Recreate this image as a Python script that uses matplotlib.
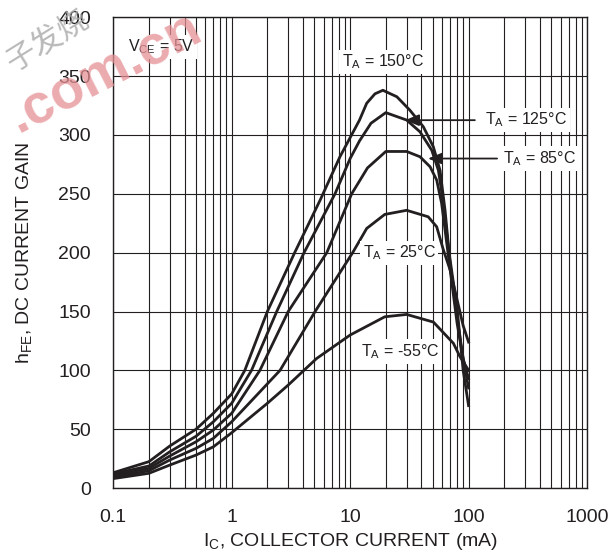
import matplotlib
matplotlib.use('Agg')
import matplotlib.pyplot as plt

plt.rcParams['font.family'] = ['Liberation Sans', 'DejaVu Sans']

ink = '#231f20'

# hFE vs IC curves
ic_150 = [0.1, 0.2, 0.3, 0.5, 0.7, 1, 1.29, 2, 3.4, 5.6, 8.2, 12, 13.8, 16.2, 18.9, 24.8, 32, 41.5, 50.4, 57.4, 63.3, 68.5, 80.5, 90, 100]
hfe_150 = [13, 22.4, 35.7, 50, 63.5, 80, 100, 150, 200, 245, 281.5, 312.7, 327, 335, 338, 332.5, 321, 307, 290, 270, 236, 200, 150, 100, 70]

ic_125 = [0.1, 0.2, 0.3, 0.5, 0.7, 1, 1.47, 2.4, 4.08, 7.45, 10, 12, 15, 20, 30, 38.9, 48.9, 55.6, 61.3, 70, 80, 90, 100]
hfe_125 = [12, 18.7, 30.8, 44, 56.3, 72, 100, 150, 200, 250, 280, 295, 310, 319, 312.7, 302.7, 287, 270, 242, 190, 145, 110, 85]

ic_85 = [0.1, 0.2, 0.3, 0.5, 0.7, 1, 1.73, 3, 6.35, 10.3, 14, 20, 30, 38.9, 47.3, 53.8, 59.2, 70, 80, 90, 100]
hfe_85 = [10.5, 16.7, 27.2, 39.3, 49.3, 63.5, 100, 150, 200, 250, 272, 286, 286, 281.5, 273, 261.7, 242, 185, 140, 110, 93]

ic_25 = [0.1, 0.2, 0.3, 0.5, 0.7, 1, 2.56, 5.06, 10.5, 13.8, 19.6, 30, 45.6, 53.8, 61, 70, 80, 90, 100]
hfe_25 = [9, 14.7, 23.8, 33.7, 42.2, 56.3, 100, 150, 200, 220.6, 232.5, 236, 230.5, 222, 203, 185, 160, 138, 124]

ic_m55 = [0.1, 0.2, 0.3, 0.5, 0.7, 1, 2, 3, 5.2, 10, 19.6, 30, 50.5, 74.4, 84.6, 90.5, 100]
hfe_m55 = [8, 12.5, 19.5, 28, 35, 47, 72, 87.5, 110, 130, 145.5, 147.5, 141, 123, 111.6, 107, 100]

x_ticks = [0.1, 1, 10, 100, 1000]
x_labels = ['0.1', '1', '10', '100', '1000']
y_ticks = [0, 50, 100, 150, 200, 250, 300, 350, 400]

fig = plt.figure(figsize=(6.13, 5.59), dpi=100)
ax = fig.add_axes([0.1848, 0.127, 0.7728, 0.842])

# watermark of the source site
fig.text(0.0, 0.995, '.com.cn', fontsize=40, fontweight='bold', color='#e58f94',
         alpha=0.75, rotation=27, ha='left', va='top', zorder=0)
fig.text(0.0, 0.995, '子发烧', fontsize=22, color='#a8a8a8', alpha=0.8,
         rotation=32, ha='left', va='top',
         family=['Noto Sans CJK SC', 'DejaVu Sans'], zorder=0)

for xs, ys in [(ic_150, hfe_150), (ic_125, hfe_125), (ic_85, hfe_85),
               (ic_25, hfe_25), (ic_m55, hfe_m55)]:
    ax.plot(xs, ys, color=ink, lw=2.0, solid_joinstyle='round', zorder=3)

ax.set_xscale('log')
ax.set_xlim(0.1, 1000)
ax.set_ylim(0, 400)
ax.set_xticks(x_ticks)
ax.set_xticklabels(x_labels)
ax.set_yticks(y_ticks)
ax.grid(True, which='both', axis='x', color=ink, lw=0.8)
ax.grid(True, which='major', axis='y', color=ink, lw=0.8)
ax.tick_params(which='both', length=0, labelsize=14, labelcolor=ink)
ax.tick_params(axis='x', pad=15)
ax.tick_params(axis='y', pad=16)
for s in ax.spines.values():
    s.set_color(ink)
    s.set_linewidth(1.0)
ax.patch.set_alpha(0)

ax.set_xlabel('I$_\\mathregular{C}$, COLLECTOR CURRENT (mA)', fontsize=14, color=ink, labelpad=4)
ax.set_ylabel('h$_\\mathregular{FE}$, DC CURRENT GAIN', fontsize=14, color=ink, labelpad=17)

box = dict(facecolor='white', edgecolor='none', pad=2)
ax.text(0.132, 375, 'V$_\\mathregular{CE}$ = 5V', fontsize=11.5, color=ink, ha='left', va='center', bbox=box, zorder=4)
ax.text(18.9, 362, 'T$_\\mathregular{A}$ = 150°C', fontsize=11.5, color=ink, ha='center', va='center', bbox=box, zorder=4)
ax.text(25.9, 200, 'T$_\\mathregular{A}$ = 25°C', fontsize=11.5, color=ink, ha='center', va='center', bbox=box, zorder=4)
ax.text(26.4, 116, 'T$_\\mathregular{A}$ = -55°C', fontsize=11.5, color=ink, ha='center', va='center', bbox=box, zorder=4)
ax.text(137, 312.7, 'T$_\\mathregular{A}$ = 125°C', fontsize=11.5, color=ink, ha='left', va='center', bbox=box, zorder=4)
ax.text(197, 280, 'T$_\\mathregular{A}$ = 85°C', fontsize=11.5, color=ink, ha='left', va='center', bbox=box, zorder=4)

arrow = dict(arrowstyle='-|>,head_length=0.6,head_width=0.25', color=ink, lw=1.3,
             mutation_scale=14, shrinkA=0, shrinkB=0)
ax.annotate('', xy=(29.1, 312.6), xytext=(113, 312.6), arrowprops=arrow, zorder=5)
ax.annotate('', xy=(45.5, 280), xytext=(174, 280), arrowprops=arrow, zorder=5)

fig.savefig('out.png', dpi=100)
